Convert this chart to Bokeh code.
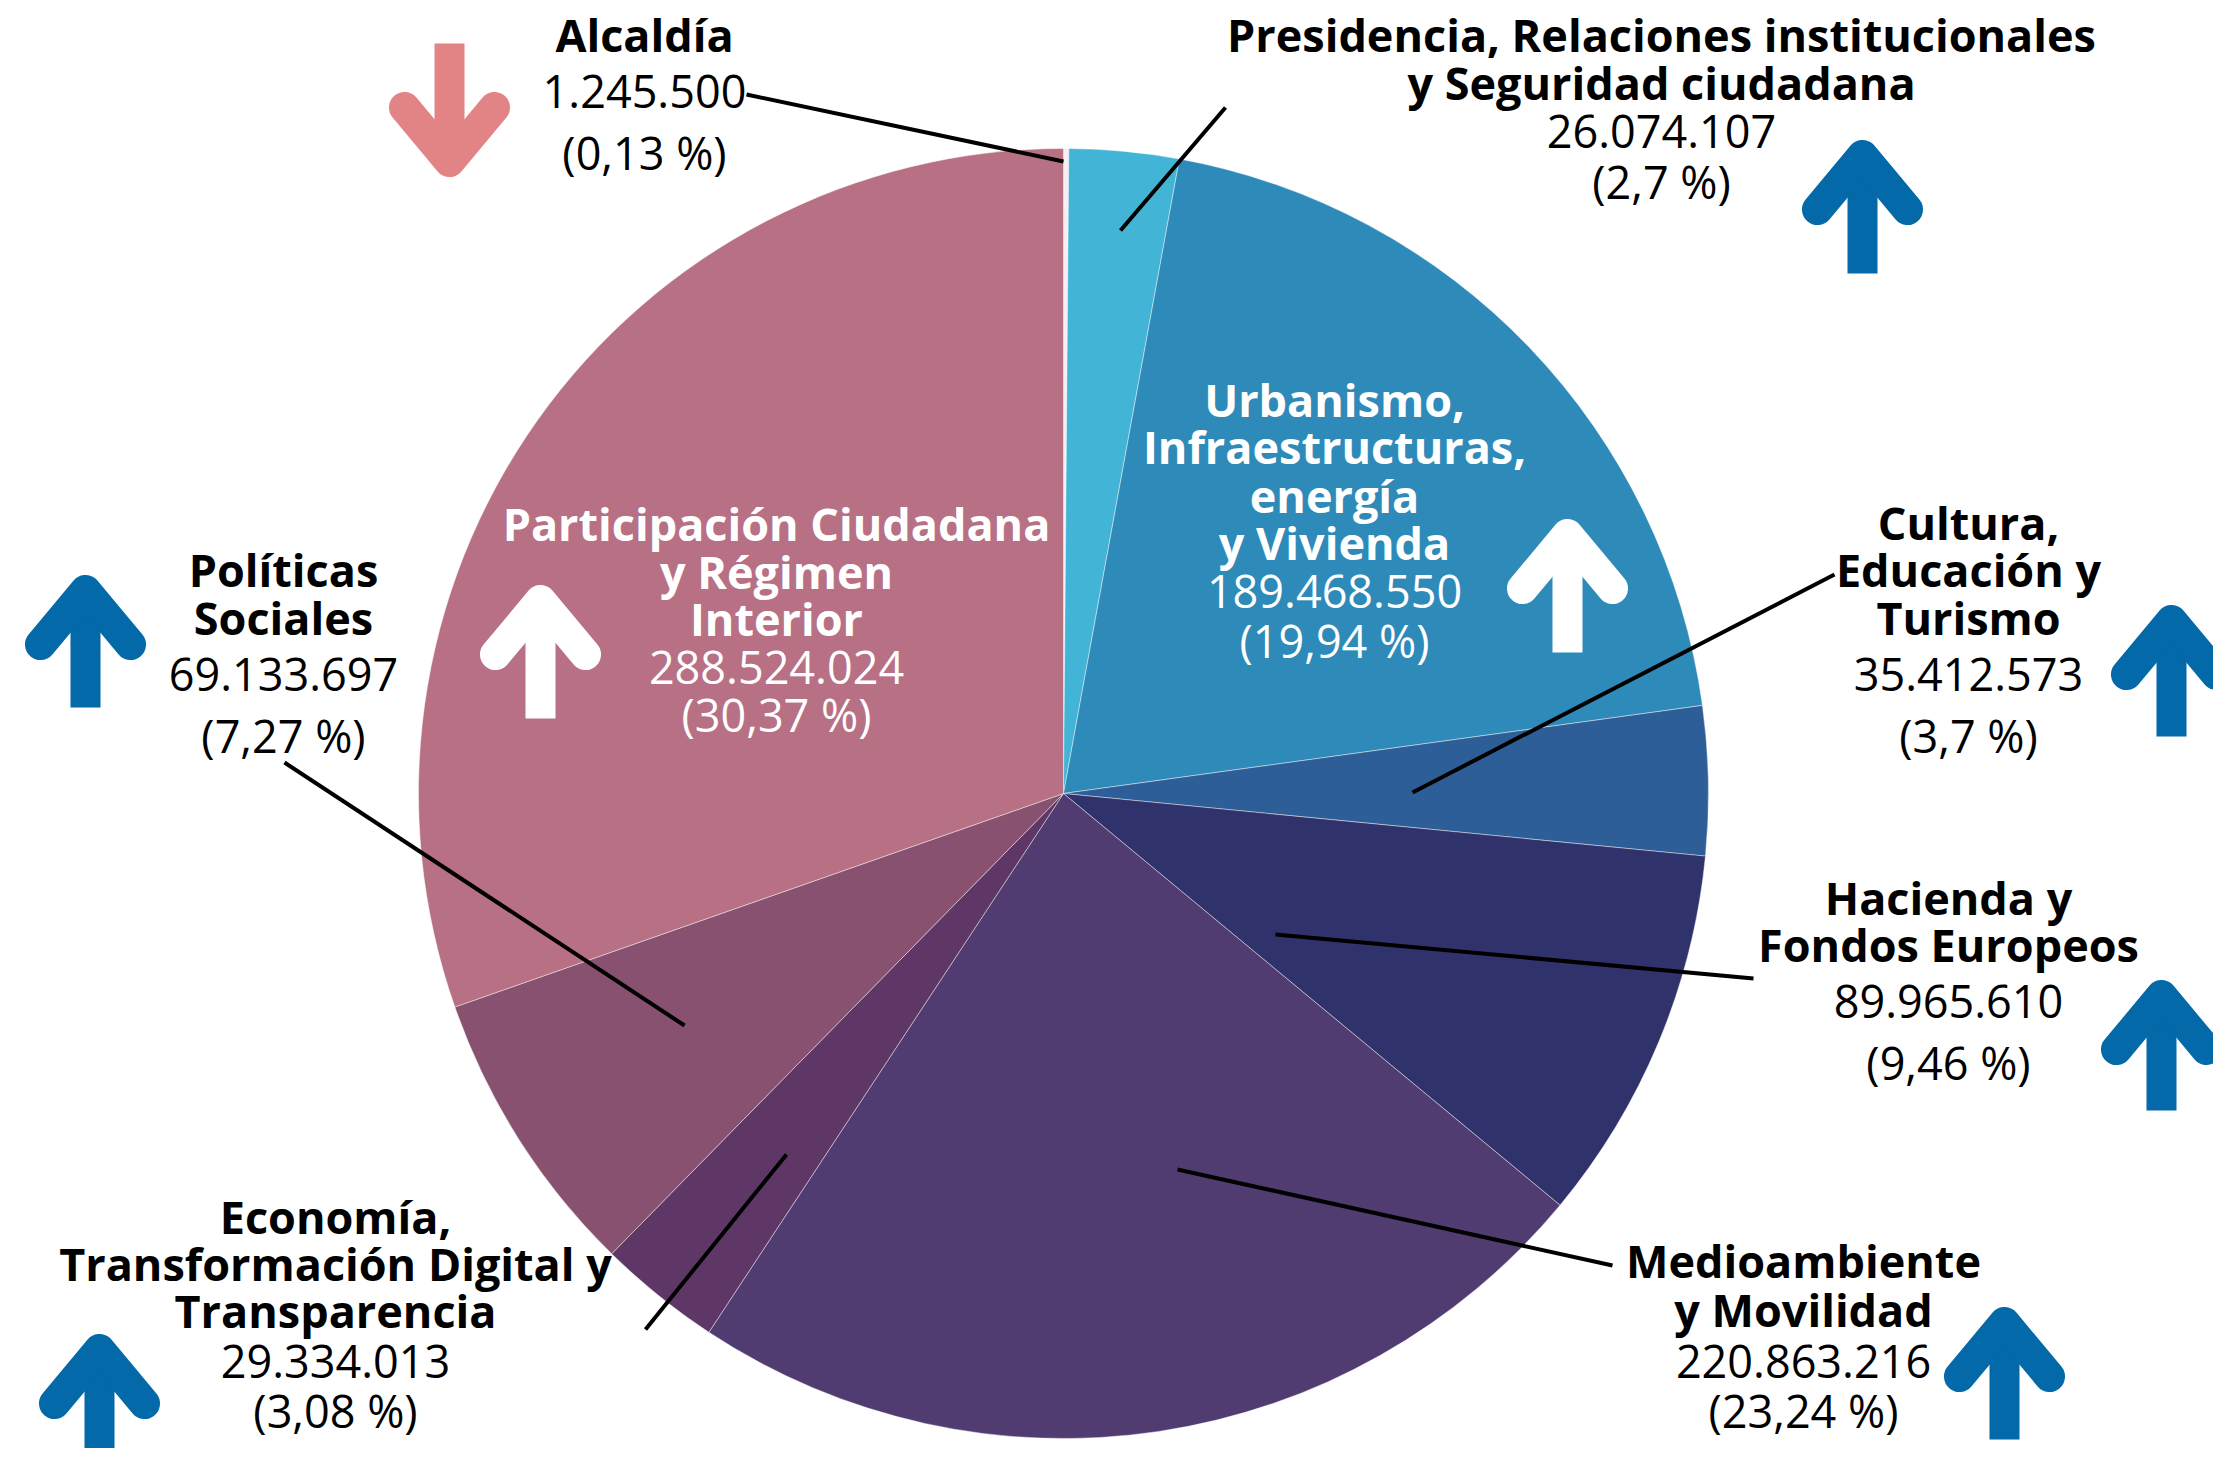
import numpy as np
from bokeh.plotting import figure
from bokeh.models import Range1d, ColumnDataSource
from bokeh.core.properties import value
from bokeh.embed import file_html
from bokeh.resources import INLINE

# ---------------- data ----------------
categories = [
    "Alcaldía",
    "Presidencia, Relaciones institucionales y Seguridad ciudadana",
    "Urbanismo, Infraestructuras, energía y Vivienda",
    "Cultura, Educación y Turismo",
    "Hacienda y Fondos Europeos",
    "Medioambiente y Movilidad",
    "Economía, Transformación Digital y Transparencia",
    "Políticas Sociales",
    "Participación Ciudadana y Régimen Interior",
]
amounts = [1245500, 26074107, 189468550, 35412573, 89965610,
           220863216, 29334013, 69133697, 288524024]
percent_labels = ["0,13", "2,7", "19,94", "3,7", "9,46", "23,24", "3,08", "7,27", "30,37"]
trend = ["down", "up", "up", "up", "up", "up", "up", "up", "up"]

# ---------------- styles / layout ----------------
slice_colors = ["#f7eef1", "#42b5d6", "#2e8bb9", "#2e5e98", "#30336b",
                "#513c72", "#5e3766", "#87516f", "#b87084"]
title_lines = [
    ["Alcaldía"],
    ["Presidencia, Relaciones institucionales", "y Seguridad ciudadana"],
    ["Urbanismo,", "Infraestructuras,", "energía", "y Vivienda"],
    ["Cultura,", "Educación y", "Turismo"],
    ["Hacienda y", "Fondos Europeos"],
    ["Medioambiente", "y Movilidad"],
    ["Economía,", "Transformación Digital y", "Transparencia"],
    ["Políticas", "Sociales"],
    ["Participación Ciudadana", "y Régimen", "Interior"],
]
# label centre x and line y's (reference pixel coords, y downward)
label_x = [644, 1661, 1334, 1968, 1948, 1803, 335, 283, 776]
label_ys = [
    [34, 91, 152],
    [34, 82, 131, 181],
    [399, 446, 495, 542, 591, 640],
    [522, 569, 617, 674, 735],
    [897, 944, 1001, 1062],
    [1260, 1309, 1361, 1410],
    [1216, 1263, 1310, 1361, 1410],
    [569, 617, 674, 735],
    [523, 571, 618, 667, 714],
]
label_color = ["black", "black", "white", "black", "black", "black", "black", "black", "white"]
leaders = [
    ((746, 94), (1063, 161)),
    ((1225, 107), (1120, 230)),
    None,
    ((1834, 574), (1412, 792)),
    ((1753, 978), (1275, 934)),
    ((1612, 1265), (1177, 1169)),
    ((645, 1329), (786, 1154)),
    ((284, 762), (684, 1025)),
    None,
]
arrow_pos = [(449, 43, 178), (1862, 138, 273), (1567, 517, 652), (2171, 603, 736),
             (2161, 978, 1110), (2004, 1305, 1439), (99, 1332, 1467), (85, 573, 707),
             (540, 583, 718)]
arrow_color = ["#e28486", "#0369a8", "white", "#0369a8", "#0369a8", "#0369a8",
               "#0369a8", "#0369a8", "white"]

W, H = 2229, 1464
CX, CY, R = 1063, 793, 645
FONT = value("Open Sans")
FS = "45px"


def Y(y):
    return H - y


p = figure(width=W - 16, height=H - 16, x_range=Range1d(0, W - 16), y_range=Range1d(16, H),
           output_backend="svg", toolbar_location=None, min_border=0,
           x_axis_location=None, y_axis_location=None)
p.grid.visible = False
p.outline_line_color = None
p.background_fill_color = "white"
p.border_fill_color = "white"

# ---------------- pie ----------------
amt = np.array(amounts, dtype=float)
frac = amt / amt.sum()
cum_after = np.cumsum(frac)
cum_before = cum_after - frac
start = np.pi / 2 - cum_after * 2 * np.pi
end = np.pi / 2 - cum_before * 2 * np.pi
src = ColumnDataSource(dict(start=start, end=end, color=slice_colors, cat=categories))
p.wedge(x=CX, y=Y(CY), radius=R, start_angle="start", end_angle="end",
        fill_color="color", line_color="white", line_width=0.7, line_alpha=0.6, source=src)

# ---------------- leader lines ----------------
for ld in leaders:
    if ld is None:
        continue
    (x0, y0), (x1, y1) = ld
    p.line([x0, x1], [Y(y0), Y(y1)], line_color="black", line_width=4)

# ---------------- arrows ----------------
for (cx, yt, yb), col, tr in zip(arrow_pos, arrow_color, trend):
    if tr == "up":
        vy = yt + 17
        p.segment(cx, Y(vy + 8), cx, Y(yb), line_color=col, line_width=30, line_cap="butt")
        p.line([cx - 45, cx, cx + 45], [Y(vy + 54), Y(vy), Y(vy + 54)], line_color=col,
               line_width=31, line_cap="round", line_join="round")
    else:
        vy = yb - 17
        p.segment(cx, Y(yt), cx, Y(vy - 8), line_color=col, line_width=30, line_cap="butt")
        p.line([cx - 45, cx, cx + 45], [Y(vy - 54), Y(vy), Y(vy - 54)], line_color=col,
               line_width=31, line_cap="round", line_join="round")

# ---------------- labels ----------------
for i in range(len(categories)):
    lines = title_lines[i]
    ys = label_ys[i]
    nb = len(lines)
    val_txt = f"{amounts[i]:,}".replace(",", ".")
    pct_txt = f"({percent_labels[i]} %)"
    p.text(x=[label_x[i]] * nb, y=[Y(v) for v in ys[:nb]], text=lines,
           text_font=FONT, text_font_size=FS, text_font_style="bold",
           text_color=label_color[i], text_align="center", text_baseline="middle")
    p.text(x=[label_x[i]] * 2, y=[Y(ys[nb]), Y(ys[nb + 1])], text=[val_txt, pct_txt],
           text_font=FONT, text_font_size=FS, text_font_style="normal",
           text_color=label_color[i], text_align="center", text_baseline="middle")

open("out.html", "w").write(file_html(p, INLINE))
